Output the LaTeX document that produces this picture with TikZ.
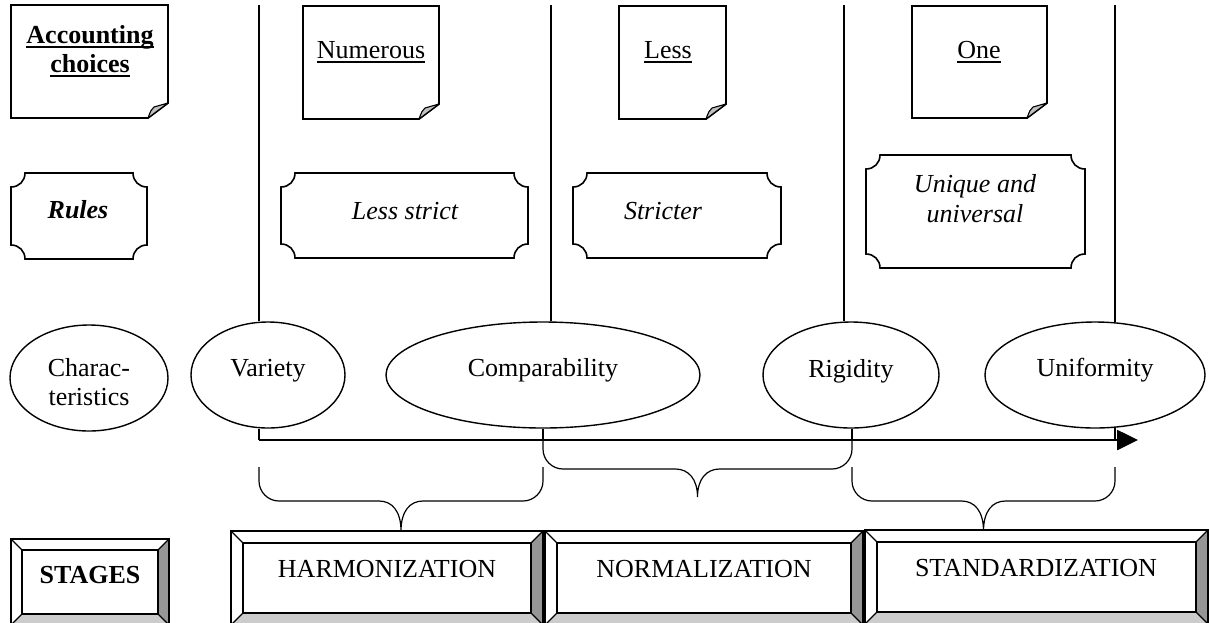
\documentclass[tikz,border=0pt]{standalone}
\usepackage{fontspec}
\setmainfont{Liberation Serif}
\usetikzlibrary{shapes.geometric,arrows.meta}
\newcommand{\ulx}[1]{\leavevmode\setbox0\hbox{#1}\rlap{\vrule width\wd0 height -2.5pt depth 4.5pt}\box0}
% folded-corner note: L T R B
\newcommand{\fnote}[4]{%
  \draw[noteline] (#1,#2) -- (#3,#2) -- (#3,{#4-15}) -- ({#3-20},#4) -- (#1,#4) -- cycle;
  \draw[flap] (#3,{#4-15}) -- ({#3-20},#4) .. controls ({#3-17},{#4-8}) .. ({#3-14},{#4-11}) .. controls ({#3-7},{#4-13}) .. (#3,{#4-15}) -- cycle;
}
% plaque with concave corners: L T R B
\newcommand{\plaq}[4]{%
  \draw[plaqueline] ({#1+14},#2) -- ({#3-14},#2) .. controls ({#3-14},{#2+8}) and ({#3-8},{#2+14}) .. (#3,{#2+14})
    -- (#3,{#4-14}) .. controls ({#3-8},{#4-14}) and ({#3-14},{#4-8}) .. ({#3-14},#4)
    -- ({#1+14},#4) .. controls ({#1+14},{#4-8}) and ({#1+8},{#4-14}) .. (#1,{#4-14})
    -- (#1,{#2+14}) .. controls ({#1+8},{#2+14}) and ({#1+14},{#2+8}) .. ({#1+14},#2) -- cycle;
}
% bevelled button: L T R B b
\newcommand{\bevbox}[5]{%
  \fill[white] (#1,#2) rectangle (#3,#4);
  \fill[bevdark] (#3,#2) -- (#3,#4) -- ({#3-#5},{#4-#5}) -- ({#3-#5},{#2+#5}) -- cycle;
  \fill[bevlight] (#1,#4) -- (#3,#4) -- ({#3-#5},{#4-#5}) -- ({#1+#5},{#4-#5}) -- cycle;
  \draw[bevthin] (#1,#2) -- ({#1+#5},{#2+#5}) (#3,#2) -- ({#3-#5},{#2+#5})
     (#1,#4) -- ({#1+#5},{#4-#5}) (#3,#4) -- ({#3-#5},{#4-#5});
  \draw[bev] (#1,#2) rectangle (#3,#4);
  \draw[bev] ({#1+#5},{#2+#5}) rectangle ({#3-#5},{#4-#5});
}
% brace: x0 x1 ytop yh ytip
\newcommand{\brc}[5]{%
  \draw[brace] (#1,#3) -- (#1,{#4-20}) .. controls (#1,{#4-9}) and ({#1+9},#4) .. ({#1+20},#4)
    -- ({(#1+#2)/2-22},#4) .. controls ({(#1+#2)/2-9},#4) and ({(#1+#2)/2},{#4+10}) .. ({(#1+#2)/2},#5)
    .. controls ({(#1+#2)/2},{#4+10}) and ({(#1+#2)/2+9},#4) .. ({(#1+#2)/2+22},#4)
    -- ({#2-20},#4) .. controls ({#2-9},#4) and (#2,{#4-9}) .. (#2,{#4-20}) -- (#2,#3);
}
\definecolor{bevdark}{HTML}{969696}
\definecolor{bevlight}{HTML}{CCCCCC}
\definecolor{flapgray}{HTML}{C0C0C0}
\tikzset{
  txt/.style={font=\fontsize{26}{30}\selectfont, inner sep=0pt, anchor=base},
  noteline/.style={draw=black, line width=1.8pt, fill=white, line join=miter},
  flap/.style={draw=black, line width=1.1pt, fill=flapgray, line join=round},
  plaqueline/.style={draw=black, line width=1.6pt, fill=white},
  ell/.style={ellipse, draw=black, line width=1.4pt, inner sep=0pt},
  vline/.style={draw=black, line width=1.3pt},
  brace/.style={draw=black, line width=1.2pt},
  axis/.style={draw=black, line width=2.6pt, -{Triangle[length=21pt,width=20pt]}},
  bev/.style={draw=black, line width=1.8pt, line join=miter},
  bevthin/.style={draw=black, line width=1.2pt},
}
\begin{document}
\begin{tikzpicture}[x=1pt,y=-1pt]
\useasboundingbox (0,0) rectangle (1210,622);
\clip (0,0) rectangle (1210,622);

% row 1: accounting choices
\fnote{11}{5}{168}{118}
\node[txt] (accT1) at (90,43) {\bfseries\ulx{Accounting}};
\node[txt] (accT2) at (90,72) {\bfseries\ulx{choices}};
\fnote{303}{6}{439}{119}
\node[txt] (numT) at (371,58) {\ulx{Numerous}};
\fnote{619}{6}{726}{119}
\node[txt] (lessT) at (668,58) {\ulx{Less}};
\fnote{912}{6}{1047}{118}
\node[txt] (oneT) at (979,58) {\ulx{One}};

% row 2: rules
\plaq{11}{173}{147}{259}
\node[txt] (rulesT) at (78,218) {\bfseries\itshape Rules};
\plaq{281}{173}{528}{258}
\node[txt] (lsT) at (405,219) {\itshape Less strict};
\plaq{573}{173}{781}{258}
\node[txt] (stT) at (663,219) {\itshape Stricter};
\plaq{866}{155}{1085}{268}
\node[txt] (unT1) at (975,192) {\itshape Unique and};
\node[txt] (unT2) at (975,222) {\itshape universal};

% row 3: characteristics
\node[ell, minimum width=158pt, minimum height=106pt] (char) at (89,378) {};
\node[txt] (charT1) at (89,376) {Charac-};
\node[txt] (charT2) at (89,405) {teristics};
\node[ell, minimum width=154pt, minimum height=106pt] (var) at (268,375) {};
\node[txt] (varT) at (268,376) {Variety};
\node[ell, minimum width=314pt, minimum height=106pt] (comp) at (543,375) {};
\node[txt] (compT) at (543,376) {Comparability};
\node[ell, minimum width=176pt, minimum height=106pt] (rig) at (851,375) {};
\node[txt] (rigT) at (851,377) {Rigidity};
\node[ell, minimum width=220pt, minimum height=106pt] (uni) at (1095,375) {};
\node[txt] (uniT) at (1095,376) {Uniformity};

% vertical separators
\coordinate (v1) at (259,5);
\coordinate (v2) at (551,5);
\coordinate (v3) at (844,5);
\coordinate (v4) at (1115,5);
\draw[vline] (v1) -- (v1 |- var.north);
\draw[vline] (v2) -- (v2 |- comp.north);
\draw[vline] (v3) -- (v3 |- rig.north);
\draw[vline] (v4) -- ([yshift=-1pt]v4 |- uni.north);

% axis
\coordinate (a1) at (259,440);
\coordinate (a2) at (543,440);
\coordinate (a3) at (852,440);
\coordinate (a4) at (1115,440);
\coordinate (aend) at (1138,440);
\draw[vline] (var.south -| a1) -- (a1);
\draw[vline] (comp.south) -- (a2);
\draw[vline] (rig.south -| a3) -- (a3);
\draw[vline] ([yshift=1pt]uni.south -| a4) -- (a4);
\draw[axis] (a1) -- (aend);

% braces
\brc{543}{852}{440}{469}{497}
\brc{259}{543}{467}{501}{531}
\brc{852}{1115}{467}{501}{531}

% stages
\bevbox{11}{539}{169}{625}{11}
\node[txt] (stagesT) at (90,583) {\bfseries STAGES};
\bevbox{231}{531}{543}{625}{12}
\node[txt] (harmT) at (387,577) {HARMONIZATION};
\bevbox{545}{531}{863}{625}{12}
\node[txt] (normT) at (704,577) {NORMALIZATION};
\bevbox{865}{530}{1208}{624}{12}
\node[txt] (standT) at (1036,576) {STANDARDIZATION};
\end{tikzpicture}
\end{document}
